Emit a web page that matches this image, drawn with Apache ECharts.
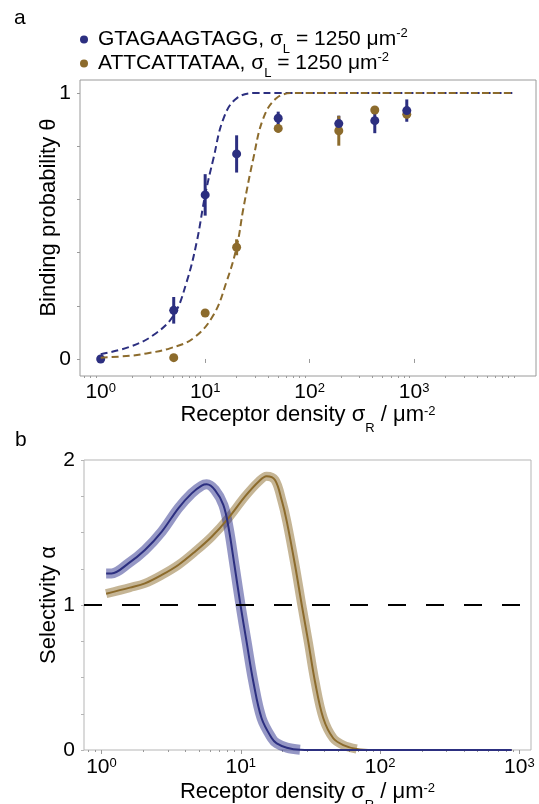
<!DOCTYPE html>
<html>
<head>
<meta charset="utf-8">
<script src="https://cdn.jsdelivr.net/npm/echarts@6/dist/echarts.min.js"></script>
<style>
  html, body { margin: 0; padding: 0; background: #fff; }
  #chart { width: 539px; height: 804px; }
</style>
</head>
<body>
<div id="chart"></div>
<script>
// panel a: measured binding probability
const blueX = [1, 5, 10, 20, 50, 190, 420, 850];
const blueTheta = [0.0, 0.183, 0.617, 0.771, 0.905, 0.885, 0.896, 0.934];
const blueErr = [0.0, 0.05, 0.078, 0.07, 0.025, 0.03, 0.047, 0.042];

const goldX = [5, 10, 20, 50, 190, 420, 850];
const goldTheta = [0.005, 0.173, 0.42, 0.867, 0.858, 0.936, 0.92];
const goldErr = [0.004, 0.012, 0.03, 0.015, 0.056, 0.015, 0.015];

// panel a: fitted curves
const blueFitX = [1, 1.9, 3.2, 5, 6.65, 8.3, 10, 12, 15, 20, 31, 50, 100, 1000, 8700];
const blueFitY = [0.018, 0.046, 0.09, 0.165, 0.29, 0.44, 0.617, 0.754, 0.905, 0.98, 1.0, 1.0, 1.0, 1.0, 1.0];
const goldFitX = [1, 1.9, 2.75, 4.6, 7.7, 12, 16, 20, 23.2, 28.9, 36, 48, 70, 100, 1000, 8700];
const goldFitY = [0.005, 0.012, 0.021, 0.04, 0.078, 0.165, 0.29, 0.42, 0.566, 0.754, 0.905, 0.98, 1.0, 1.0, 1.0, 1.0];

// panel b: selectivity
const selBlueX = [1.08, 1.18, 1.56, 2.05, 2.71, 3.56, 4.44, 5.24, 5.69, 6.53, 7.49, 8.15, 9.0, 9.95, 11.0, 12.3, 14.1, 16.7, 18.1, 21.4, 26.6, 40, 100, 880];
const selBlueY = [1.218, 1.218, 1.287, 1.379, 1.506, 1.667, 1.77, 1.823, 1.832, 1.793, 1.69, 1.54, 1.276, 1.0, 0.747, 0.471, 0.219, 0.081, 0.046, 0.016, 0.002, 0, 0, 0];
const selGoldX = [1.08, 1.6, 2.05, 2.71, 3.56, 4.69, 6.18, 8.13, 10.7, 13.4, 15.3, 17.6, 19.7, 21.4, 24.5, 27.4, 30.5, 34.1, 39.1, 46.1, 54.4, 67.9, 89, 200, 880];
const selGoldY = [1.078, 1.12, 1.149, 1.207, 1.276, 1.368, 1.471, 1.598, 1.747, 1.85, 1.888, 1.862, 1.72, 1.575, 1.276, 1.0, 0.747, 0.471, 0.219, 0.081, 0.034, 0.007, 0, 0, 0];

// ticks
const decadeTicks = [1, 10, 100, 1000];
const minorMult = [2, 3, 4, 5, 6, 7, 8, 9];
const thetaTicks = [0, 0.2, 0.4, 0.6, 0.8, 1];
const thetaLabels = [0, 1];
const alphaTicks = [0, 0.25, 0.5, 0.75, 1, 1.25, 1.5, 1.75, 2];
const alphaLabels = [0, 1, 2];

const FONT = 'Liberation Sans, Arial, sans-serif';
const BLUE = '#2c2f80';
const GOLD = '#8c6b2c';
const BLUE_BAND = 'rgba(44,47,140,0.5)';
const GOLD_BAND = 'rgba(140,107,44,0.5)';
const FRAME = '#9a9a9a';

const legendText = {
  GTAGAAGTAGG: '{t|GTAGAAGTAGG, σ}{sub|L}{t| = 1250 μm}{sup|-2}',
  ATTCATTATAA: '{t|ATTCATTATAA, σ}{sub|L}{t| = 1250 μm}{sup|-2}'
};

const richText = (size, subPad, supPad) => ({
  t: { fontSize: size, fontFamily: FONT, color: '#000', lineHeight: 40 },
  sub: { fontSize: 13, fontFamily: FONT, color: '#000', verticalAlign: 'middle', padding: [subPad, 0, 0, 0] },
  sup: { fontSize: 13, fontFamily: FONT, color: '#000', verticalAlign: 'middle', padding: [0, 0, supPad, 0] }
});

const zip = (xs, ys) => xs.map((x, i) => [x, ys[i]]);
// the shaded band stops where the curve reaches the axis
const bandPart = (xs, ys) => zip(xs, ys).slice(0, ys.indexOf(0));
const minorTicks = (decades) => decades.flatMap(d => minorMult.map(m => m * d));

const logLabel = {
  fontSize: 21,
  fontFamily: FONT,
  color: '#000',
  formatter: (v) => '{b|10}{e|' + Math.round(Math.log10(v)) + '}',
  rich: {
    b: { fontSize: 21, fontFamily: FONT, color: '#000' },
    e: { fontSize: 13, fontFamily: FONT, color: '#000', verticalAlign: 'top' }
  }
};

function errorBars(xs, ys, errs, color) {
  return {
    type: 'custom',
    xAxisIndex: 0,
    yAxisIndex: 0,
    silent: true,
    encode: { x: 0, y: [1, 2] },
    data: xs.map((x, i) => [x, ys[i] - errs[i], ys[i] + errs[i]]),
    renderItem: (params, api) => {
      const lo = api.coord([api.value(0), api.value(1)]);
      const hi = api.coord([api.value(0), api.value(2)]);
      return {
        type: 'line',
        shape: { x1: lo[0], y1: lo[1], x2: hi[0], y2: hi[1] },
        style: { stroke: color, lineWidth: 3 }
      };
    }
  };
}

const chart = echarts.init(document.getElementById('chart'));

chart.setOption({
  animation: false,
  backgroundColor: '#fff',
  title: [
    { text: 'a', left: 9, top: 3, textStyle: { fontSize: 21, fontWeight: 'normal', fontFamily: FONT, color: '#000' } },
    { text: 'b', left: 10, top: 425, textStyle: { fontSize: 21, fontWeight: 'normal', fontFamily: FONT, color: '#000' } }
  ],
  legend: [
    {
      data: ['GTAGAAGTAGG'], left: 80, top: 27, padding: 0, icon: 'circle',
      itemWidth: 18, itemHeight: 8, selectedMode: false,
      formatter: (n) => legendText[n],
      textStyle: { rich: richText(21, 20, 12) }
    },
    {
      data: ['ATTCATTATAA'], left: 80, top: 51, padding: 0, icon: 'circle',
      itemWidth: 18, itemHeight: 8, selectedMode: false,
      formatter: (n) => legendText[n],
      textStyle: { rich: richText(21, 20, 12) }
    }
  ],
  grid: [
    { left: 80, top: 80, right: 3, bottom: 428, outerBoundsMode: 'none', show: true, borderColor: FRAME, borderWidth: 1, backgroundColor: 'transparent' },
    { left: 84, top: 460, right: 8, bottom: 54, outerBoundsMode: 'none', show: true, borderColor: '#b5b5b5', borderWidth: 1, backgroundColor: 'transparent' }
  ],
  xAxis: [
    {
      type: 'log', gridIndex: 0, min: 0.634, max: 14660, position: 'bottom',
      name: '{t|Receptor density σ}{sub|R}{t| / μm}{sup|-2}',
      nameLocation: 'middle', nameGap: 19, nameMoveOverlap: false,
      nameTextStyle: { rich: richText(22, 26, 8) },
      axisLine: { show: false },
      axisTick: { show: true, length: 4, customValues: decadeTicks, lineStyle: { color: FRAME } },
      axisLabel: Object.assign({ customValues: decadeTicks, margin: 6 }, logLabel),
      splitLine: { show: false }
    },
    {
      type: 'log', gridIndex: 0, min: 0.634, max: 14660, position: 'bottom',
      axisLine: { show: false },
      axisTick: { show: true, length: 2, customValues: [0.7, 0.8, 0.9].concat(minorTicks([1, 10, 100, 1000])), lineStyle: { color: FRAME } },
      axisLabel: { show: false },
      splitLine: { show: false }
    },
    {
      type: 'log', gridIndex: 1, min: 0.749, max: 1211, position: 'bottom',
      name: '{t|Receptor density σ}{sub|R}{t| / μm}{sup|-2}',
      nameLocation: 'middle', nameGap: 22, nameMoveOverlap: false,
      nameTextStyle: { rich: richText(22, 26, 8) },
      axisLine: { show: false },
      axisTick: { show: true, length: 4, customValues: decadeTicks, lineStyle: { color: FRAME } },
      axisLabel: Object.assign({ customValues: decadeTicks, margin: 7 }, logLabel),
      splitLine: { show: false }
    },
    {
      type: 'log', gridIndex: 1, min: 0.749, max: 1211, position: 'bottom',
      axisLine: { show: false },
      axisTick: { show: true, length: 2, customValues: [0.8, 0.9].concat(minorTicks([1, 10, 100])), lineStyle: { color: FRAME } },
      axisLabel: { show: false },
      splitLine: { show: false }
    }
  ],
  yAxis: [
    {
      type: 'value', gridIndex: 0, min: -0.064, max: 1.049,
      name: 'Binding probability θ',
      nameLocation: 'middle', nameGap: 20, nameMoveOverlap: false,
      nameTextStyle: { fontSize: 22, fontFamily: FONT, color: '#000', padding: [0, 0, 0, 21] },
      axisLine: { show: false },
      axisTick: { show: true, length: 3, customValues: thetaTicks, lineStyle: { color: FRAME } },
      axisLabel: { customValues: thetaLabels, fontSize: 21, fontFamily: FONT, color: '#000', margin: 9 },
      splitLine: { show: false }
    },
    {
      type: 'value', gridIndex: 1, min: 0, max: 2,
      name: 'Selectivity α',
      nameLocation: 'middle', nameGap: 24, nameMoveOverlap: false,
      nameTextStyle: { fontSize: 22, fontFamily: FONT, color: '#000' },
      axisLine: { show: false },
      axisTick: { show: true, length: 3, customValues: alphaTicks, lineStyle: { color: '#b5b5b5' } },
      axisLabel: { customValues: alphaLabels, fontSize: 21, fontFamily: FONT, color: '#000', margin: 9 },
      splitLine: { show: false }
    }
  ],
  series: [
    {
      name: 'blue fit', type: 'line', xAxisIndex: 0, yAxisIndex: 0,
      data: zip(blueFitX, blueFitY), smooth: 0.4, showSymbol: false, silent: true,
      lineStyle: { color: BLUE, width: 2, type: [7, 4] }
    },
    {
      name: 'gold fit', type: 'line', xAxisIndex: 0, yAxisIndex: 0,
      data: zip(goldFitX, goldFitY), smooth: 0.4, showSymbol: false, silent: true,
      lineStyle: { color: GOLD, width: 2, type: [7, 4] }
    },
    errorBars(blueX, blueTheta, blueErr, BLUE),
    errorBars(goldX, goldTheta, goldErr, GOLD),
    {
      name: 'ATTCATTATAA', type: 'scatter', xAxisIndex: 0, yAxisIndex: 0,
      data: zip(goldX, goldTheta), symbolSize: 9, itemStyle: { color: GOLD, opacity: 1 }
    },
    {
      name: 'GTAGAAGTAGG', type: 'scatter', xAxisIndex: 0, yAxisIndex: 0,
      data: zip(blueX, blueTheta), symbolSize: 9, itemStyle: { color: BLUE, opacity: 1 }
    },
    {
      name: 'gold band', type: 'line', xAxisIndex: 2, yAxisIndex: 1,
      data: bandPart(selGoldX, selGoldY), smooth: 0.35, showSymbol: false, silent: true,
      lineStyle: { color: GOLD_BAND, width: 9, cap: 'butt', join: 'round' }
    },
    {
      name: 'blue band', type: 'line', xAxisIndex: 2, yAxisIndex: 1,
      data: bandPart(selBlueX, selBlueY), smooth: 0.35, showSymbol: false, silent: true,
      lineStyle: { color: BLUE_BAND, width: 10, cap: 'butt', join: 'round' }
    },
    {
      name: 'gold selectivity', type: 'line', xAxisIndex: 2, yAxisIndex: 1,
      data: zip(selGoldX, selGoldY), smooth: 0.35, showSymbol: false, silent: true,
      lineStyle: { color: GOLD, width: 2 },
      markLine: {
        silent: true, symbol: 'none', label: { show: false },
        lineStyle: { color: '#000', width: 2, type: [18, 20] },
        data: [{ yAxis: 1 }]
      }
    },
    {
      name: 'blue selectivity', type: 'line', xAxisIndex: 2, yAxisIndex: 1,
      data: zip(selBlueX, selBlueY), smooth: 0.35, showSymbol: false, silent: true,
      lineStyle: { color: BLUE, width: 2 }
    }
  ]
});
</script>
</body>
</html>
